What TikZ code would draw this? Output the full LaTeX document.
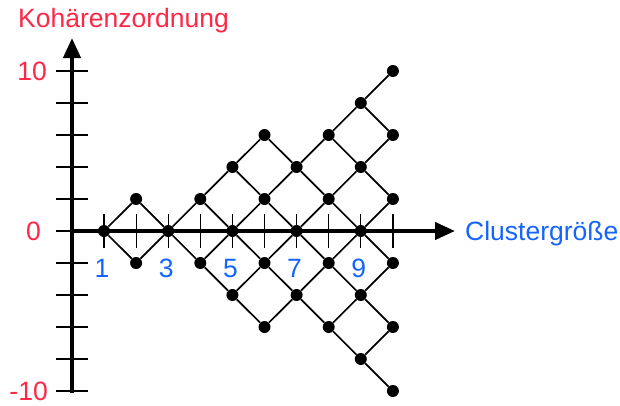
\documentclass[tikz,border=0pt]{standalone}
\usepackage{fontspec}
\setmainfont{Liberation Sans}
\usetikzlibrary{arrows.meta}
\definecolor{axred}{RGB}{255,38,70}
\definecolor{axblue}{RGB}{20,100,255}
\begin{document}
\begin{tikzpicture}[x=1pt,y=-1pt,
  axis/.style={line width=4.2pt,-{Triangle[length=20pt,width=17pt]}},
  tick/.style={line width=1.2pt},
  edge/.style={line width=1.7pt},
  dot/.style={circle,fill=black,inner sep=0pt,minimum size=12pt},
  redlbl/.style={text=axred,font=\fontsize{26.5}{26.5}\selectfont},
  bluelbl/.style={text=axblue,font=\fontsize{26.5}{26.5}\selectfont}]
\useasboundingbox (0,0) rectangle (620,405);
% axes
\coordinate (ybot) at (72,393);
\coordinate (ytop) at (72,38);
\coordinate (xleft) at (72,231);
\coordinate (xright) at (455,231);
% ticks on the vertical axis (every two units)
\foreach \k in {-5,...,5}{
  \draw[tick] (56,231-32*\k) -- (88,231-32*\k);
}
% ticks on the horizontal axis (cluster sizes 1..10)
\foreach \n in {1,...,10}{
  \draw[tick] (104+32.1*\n-32.1,214) -- (104+32.1*\n-32.1,248);
}
\draw[axis] (ybot) -- (ytop);
\draw[axis] (xleft) -- (xright);
% lattice of coherence orders
\foreach \n/\vals in {1/{0},2/{-2,2},3/{0},4/{-2,2},5/{-4,0,4},6/{-6,-2,2,6},
                      7/{-4,0,4},8/{-6,-2,2,6},9/{-8,-4,0,4,8},10/{-10,-6,-2,2,6,10}}{
  \foreach \v in \vals{
    \node[dot] (p-\n-\v) at (104+32.1*\n-32.1,231-16*\v) {};
  }
}
\foreach \a/\b/\c in {1/0/2,1/0/-2,2/2/0,2/-2/0,3/0/2,3/0/-2,
  4/2/4,4/2/0,4/-2/0,4/-2/-4,
  5/4/6,5/4/2,5/0/2,5/0/-2,5/-4/-2,5/-4/-6,
  6/6/4,6/2/4,6/2/0,6/-2/0,6/-2/-4,6/-6/-4,
  7/4/6,7/4/2,7/0/2,7/0/-2,7/-4/-2,7/-4/-6,
  8/6/8,8/6/4,8/2/4,8/2/0,8/-2/0,8/-2/-4,8/-6/-4,8/-6/-8,
  9/8/10,9/8/6,9/4/6,9/4/2,9/0/2,9/0/-2,9/-4/-2,9/-4/-6,9/-8/-6,9/-8/-10}{
  \pgfmathtruncatemacro{\m}{\a+1}
  \draw[edge] (p-\a-\b) -- (p-\m-\c);
}
% labels
\node[redlbl,anchor=base west,inner sep=0pt] (ylab) at (18,27) {Kohärenzordnung};
\node[redlbl,anchor=east,inner sep=0pt] (y10) at (47,71) {10};
\node[redlbl,anchor=east,inner sep=0pt] (y0) at (41,231) {0};
\node[redlbl,anchor=east,inner sep=0pt] (ym10) at (48,391) {-10};
\node[bluelbl,anchor=base west,inner sep=0pt] (xlab) at (465,240) {Clustergröße};
\foreach \n in {1,3,5,7,9}{
  \node[bluelbl,anchor=base,inner sep=0pt] (x\n) at (102+32.1*\n-32.1,277) {\n};
}
\end{tikzpicture}
\end{document}
